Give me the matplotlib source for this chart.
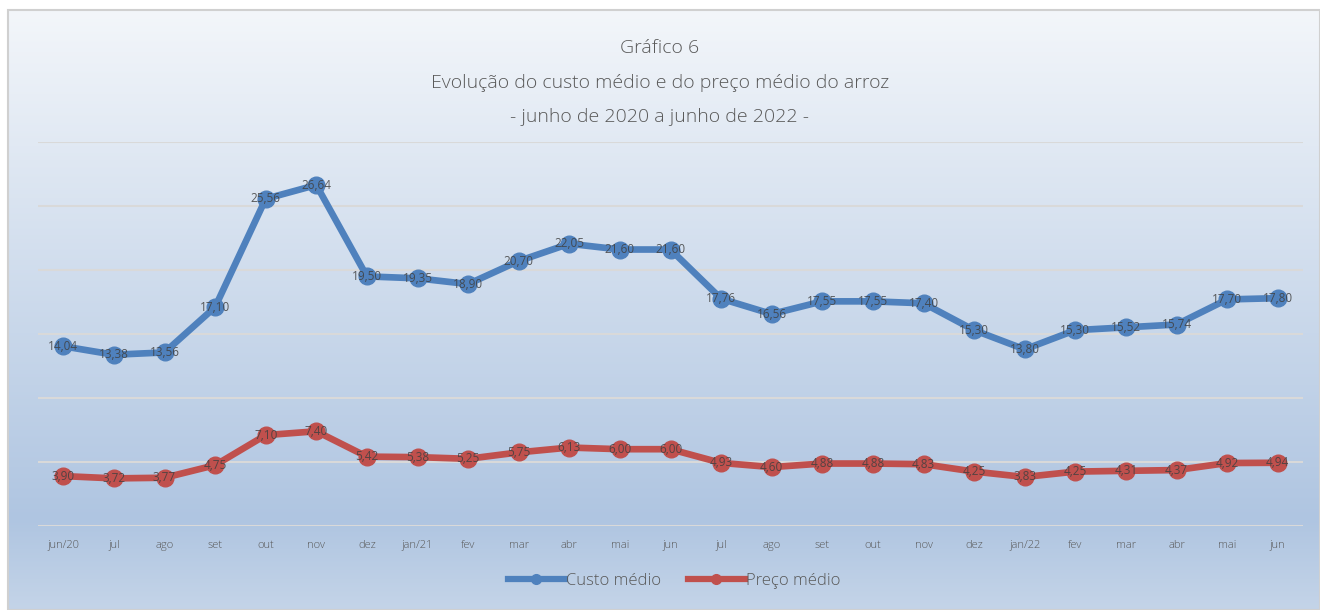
import numpy as np
import matplotlib.pyplot as plt
from matplotlib.patches import Rectangle
from matplotlib.lines import Line2D
from matplotlib.colors import LinearSegmentedColormap

meses = ["jun/20", "jul", "ago", "set", "out", "nov", "dez", "jan/21", "fev", "mar",
         "abr", "mai", "jun", "jul", "ago", "set", "out", "nov", "dez", "jan/22",
         "fev", "mar", "abr", "mai", "jun"]
custo = [14.04, 13.38, 13.56, 17.10, 25.56, 26.64, 19.50, 19.35, 18.90, 20.70,
         22.05, 21.60, 21.60, 17.76, 16.56, 17.55, 17.55, 17.40, 15.30, 13.80,
         15.30, 15.52, 15.74, 17.70, 17.80]
preco = [3.90, 3.72, 3.77, 4.75, 7.10, 7.40, 5.42, 5.38, 5.25, 5.75,
         6.13, 6.00, 6.00, 4.93, 4.60, 4.88, 4.88, 4.83, 4.25, 3.83,
         4.25, 4.31, 4.37, 4.92, 4.94]

plt.rcParams['font.family'] = ['Open Sans', 'DejaVu Sans']
plt.rcParams['font.weight'] = 'light'

W, H = 1320, 610
fig = plt.figure(figsize=(W / 100, H / 100), dpi=100)

# fundo em degrade da area do grafico
bg = fig.add_axes([8 / W, 0, 1 - 8 / W, 1 - 10 / H], zorder=-10)
grad = np.linspace(0, 1, 256).reshape(-1, 1)
cmap = LinearSegmentedColormap.from_list("g", [(0, "#f3f6fa"), (0.85, "#afc5e1"), (1, "#c4d4e8")])
bg.imshow(grad, aspect="auto", cmap=cmap, extent=[0, 1, 0, 1], origin="upper")
bg.set_axis_off()
fig.patches.append(Rectangle((8 / W, 0), 1 - 8 / W, 1 - 10 / H, transform=fig.transFigure,
                             fill=False, edgecolor="#d0d0d0", lw=1.5, zorder=-5))

ax = fig.add_axes([38 / W, 1 - 526 / H, (1303 - 38) / W, (526 - 142) / H])
ax.patch.set_alpha(0)
x = np.arange(len(meses))
ax.set_xlim(-0.5, len(meses) - 0.5)
ax.set_ylim(0, 30)
ax.set_yticks(np.arange(0, 31, 5))
ax.yaxis.grid(True, color="#d9d9d9", lw=1.5)
ax.set_axisbelow(True)
ax.tick_params(axis="y", left=False, labelleft=False)
ax.tick_params(axis="x", length=0, labelsize=8, labelcolor="#595959", pad=10)
ax.set_xticks(x)
ax.set_xticklabels(meses)
for s in ax.spines.values():
    s.set_visible(False)

ax.plot(x, custo, color="#4f81bd", lw=4.8, marker="o", ms=12, solid_capstyle="round", label="Custo médio")
ax.plot(x, preco, color="#c0504d", lw=4.8, marker="o", ms=12, solid_capstyle="round", label="Preço médio")

for xi, v in zip(x, custo):
    ax.text(xi, v, f"{v:.2f}".replace(".", ","), ha="center", va="center", fontsize=8.5,
            color="#404040", weight="normal", alpha=0.85)
for xi, v in zip(x, preco):
    ax.text(xi, v, f"{v:.2f}".replace(".", ","), ha="center", va="center", fontsize=8.5,
            color="#404040", weight="normal", alpha=0.85)

fig.text(0.5, 1 - 48 / H, "Gráfico 6", ha="center", va="center", fontsize=14, color="#595959")
fig.text(0.5, 1 - 83 / H, "Evolução do custo médio e do preço médio do arroz", ha="center", va="center",
         fontsize=14, color="#595959")
fig.text(0.5, 1 - 117 / H, "- junho de 2020 a junho de 2022 -", ha="center", va="center",
         fontsize=14, color="#595959")

handles = [Line2D([], [], color="#4f81bd", lw=4.5, marker="o", ms=7),
           Line2D([], [], color="#c0504d", lw=4.5, marker="o", ms=7)]
fig.legend(handles, ["Custo médio", "Preço médio"], loc="center", bbox_to_anchor=(0.511, 1 - 581 / H),
           ncol=2, frameon=False, fontsize=12, labelcolor="#595959", handlelength=3.4,
           handletextpad=0.1, columnspacing=1.6)

fig.savefig("out.png", dpi=100)
